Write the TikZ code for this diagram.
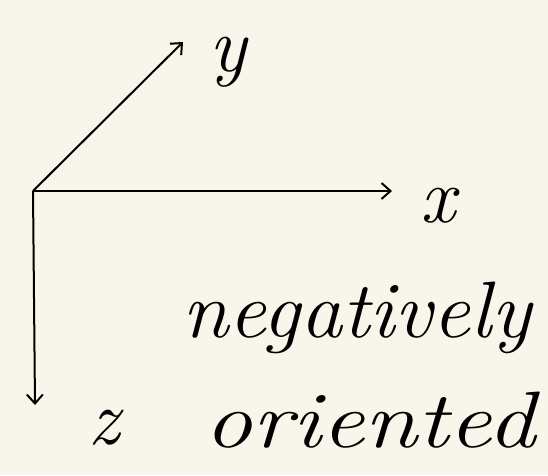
\documentclass[tikz,border=0pt]{standalone}
\usetikzlibrary{arrows.meta}
\definecolor{paper}{HTML}{F8F6EA}
\begin{document}
\begin{tikzpicture}[x=1pt,y=-1pt,
  axis/.style={line width=2pt,-{Straight Barb[length=9pt,width=16pt,line width=2pt]}},
  lab/.style={font=\itshape\fontsize{78}{78}\selectfont, inner sep=0pt},
  word/.style={font=\itshape\fontsize{80}{80}\selectfont, inner sep=0pt}]
\fill[paper] (0,0) rectangle (548,475);
\useasboundingbox (0,0) rectangle (548,475);
\coordinate (O) at (33,191);
\coordinate (Y) at (183,42);
\coordinate (X) at (392,191);
\coordinate (Z) at (35,405);
\draw[axis] (O) -- (Y);
\draw[axis] (O) -- (X);
\draw[axis] (O) -- (Z);
\node[lab] (ly) at (228,62) {y};
\node[lab] (lx) at (438,206) {x};
\node[lab] (lz) at (104,428) {z};
\node[word, xscale=1.05] (neg) at (357,318) {negatively};
\node[word, xscale=1.2] (ori) at (370,420) {oriented};
\end{tikzpicture}
\end{document}
